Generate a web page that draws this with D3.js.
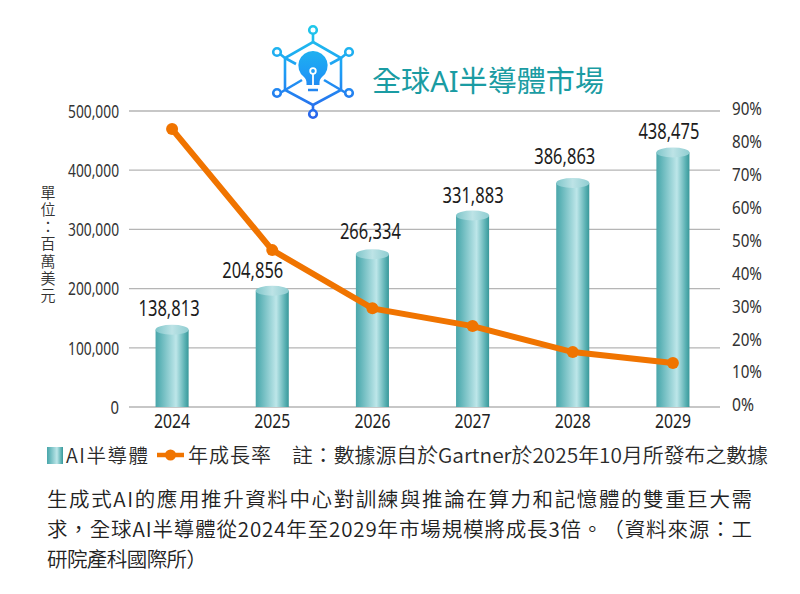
<!DOCTYPE html>
<html><head><meta charset="utf-8">
<script src="https://cdn.jsdelivr.net/npm/d3@7"></script>
<style>
html,body{margin:0;padding:0;background:#fff}
svg{display:block}
text{font-family:"Noto Sans","Noto Sans CJK TC",sans-serif;fill:#2a2a2a;text-spacing-trim:space-all}
.cjk{font-family:"Noto Sans CJK TC",sans-serif;font-weight:350}
</style></head><body>
<svg id="c" width="800" height="594"></svg>
<script>
const years=["2024","2025","2026","2027","2028","2029"];
const market=[138813,204856,266334,331883,386863,438475];
const growth=[84.5,47.7,30.0,24.6,16.7,13.4];
const leftTicks=[0,100000,200000,300000,400000,500000];
const rightTicks=[0,10,20,30,40,50,60,70,80,90];
const title="全球AI半導體市場";
const unitLabel="單位：百萬美元";
const seriesNames=["AI半導體","年成長率"];
const note="註：數據源自於Gartner於2025年10月所發布之數據";
const paragraph=["生成式AI的應用推升資料中心對訓練與推論在算力和記憶體的雙重巨大需","求，全球AI半導體從2024年至2029年市場規模將成長3倍。（資料來源：工","研院產科國際所）"];

const svg=d3.select("#c");
const defs=svg.append("defs");
const g1=defs.append("linearGradient").attr("id","bar");
[[0,"#4aa6aa"],[.12,"#5cb2b6"],[.62,"#bde6e9"],[.88,"#5cb2b4"],[1,"#38989a"]].forEach(d=>g1.append("stop").attr("offset",d[0]).attr("stop-color",d[1]));
const g2=defs.append("linearGradient").attr("id","cap");
[[0,"#7fc6ca"],[.5,"#bde3e6"],[1,"#8fcdd1"]].forEach(d=>g2.append("stop").attr("offset",d[0]).attr("stop-color",d[1]));
const g3=defs.append("linearGradient").attr("id","logo").attr("gradientUnits","userSpaceOnUse")
 .attr("x1",0).attr("y1",26).attr("x2",0).attr("y2",119);
[[0,"#1fc8ea"],[.5,"#1e9cf5"],[1,"#2a62ea"]].forEach(d=>g3.append("stop").attr("offset",d[0]).attr("stop-color",d[1]));

const x=d3.scaleBand().domain(years).range([122,723]).paddingInner(0.67).paddingOuter(0.335);
const y=d3.scaleLinear().domain([0,500000]).range([407,111]);
const yr=d3.scaleLinear().domain([0,90]).range([407,111]);
const fmt=d3.format(",");

// gridlines
svg.append("g").selectAll("line").data(leftTicks).join("line")
 .attr("x1",129).attr("x2",720).attr("y1",d=>y(d)).attr("y2",d=>y(d))
 .attr("stroke","#b5b5b5").attr("stroke-width",1.3);

// axes
const axL=svg.append("g").attr("transform","translate(119,0)").call(d3.axisLeft(y).tickValues(leftTicks).tickFormat(fmt).tickSize(0).tickPadding(0));
axL.select(".domain").remove();
axL.selectAll("text").attr("font-size",18.5).attr("dy","0.34em").style("fill","#333")
 .attr("textLength",d=>d?51:8.5).attr("lengthAdjust","spacingAndGlyphs");
const axR=svg.append("g").attr("transform","translate(732,-2.5)").call(d3.axisRight(yr).tickValues(rightTicks).tickFormat(d=>d+"%").tickSize(0).tickPadding(0));
axR.select(".domain").remove();
axR.selectAll("text").attr("font-size",18.5).attr("dy","0.34em").style("fill","#333")
 .attr("textLength",d=>d?30:22).attr("lengthAdjust","spacingAndGlyphs");
const axB=svg.append("g").attr("transform","translate(0,407)").call(d3.axisBottom(x).tickSize(0).tickPadding(6));
axB.select(".domain").remove();
axB.selectAll("text").attr("font-size",19.5).attr("dy","0.75em").style("fill","#222")
 .attr("textLength",36).attr("lengthAdjust","spacingAndGlyphs");

// bars
const bw=x.bandwidth(), capRy=5;
const bars=svg.append("g").selectAll("g").data(years).join("g");
bars.append("rect").attr("x",d=>x(d)).attr("width",bw)
 .attr("y",(d,i)=>y(market[i])+capRy).attr("height",(d,i)=>407-y(market[i])-capRy).attr("fill","url(#bar)");
bars.append("ellipse").attr("cx",d=>x(d)+bw/2).attr("cy",(d,i)=>y(market[i])+capRy).attr("rx",bw/2).attr("ry",capRy).attr("fill","url(#cap)");

// line
const line=d3.line().x((d,i)=>x(years[i])+bw/2).y(d=>yr(d));
svg.append("path").datum(growth).attr("d",line).attr("fill","none").attr("stroke","#f07400").attr("stroke-width",6);
svg.append("g").selectAll("circle").data(growth).join("circle")
 .attr("cx",(d,i)=>x(years[i])+bw/2).attr("cy",d=>yr(d)).attr("r",6).attr("fill","#f07400");

// value labels (hand-placed in the reference, so each has its own nudge)
const nudgeX=[-3,-19.5,-2,0.5,-8,-4], nudgeY=[-9,-8,-10,-8,-14,-8];
svg.append("g").selectAll("text").data(market).join("text")
 .attr("x",(d,i)=>x(years[i])+bw/2+nudgeX[i]).attr("y",(d,i)=>y(d)+nudgeY[i])
 .attr("text-anchor","middle").attr("font-size",21).style("fill","#1c1c1c")
 .attr("textLength",61).attr("lengthAdjust","spacingAndGlyphs").text(d=>fmt(d));

// unit label
svg.append("text").attr("class","cjk").attr("x",48).attr("y",185)
 .style("writing-mode","vertical-rl").style("text-orientation","upright")
 .attr("font-size",15).attr("letter-spacing",2.1).style("fill","#333").text(unitLabel);

// title
svg.append("text").attr("x",372).attr("y",92).attr("font-size",29).attr("textLength",232).attr("lengthAdjust","spacingAndGlyphs")
 .style("fill","#1a9ca3").text(title);

// logo
const lg=svg.append("g").attr("fill","#fff").attr("stroke","url(#logo)").attr("stroke-width",2.6);
const hex=[[313,42],[341,58],[341,90],[313,105],[285,90],[285,58]];
lg.append("path").attr("fill","none").attr("d",d3.line()(hex)+"Z");
[[[313,33],[313,42]],[[341,58],[346,54]],[[341,90],[346,93]],[[313,105],[313,110]],[[285,90],[280,93]],[[285,58],[280,54]],
 [[285,58],[296,64]],[[341,58],[330,64]],[[285,90],[302,80]],[[341,90],[324,80]]].forEach(s=>lg.append("path").attr("fill","none").attr("d",d3.line()(s)));
[[313,30],[349,52],[349,93],[313,114],[277,93],[277,52]].forEach(c=>lg.append("circle").attr("cx",c[0]).attr("cy",c[1]).attr("r",3.8));
svg.append("path").attr("d","M313 51a14.5 14.5 0 0 1 9 26c-1.500 1.500-2.500 3-2.500 6v2h-13v-2c0-3-1-4.500-2.500-6a14.500 14.500 0 0 1 9-26z").attr("fill","url(#logo)");
svg.append("circle").attr("cx",313).attr("cy",71).attr("r",2.800).attr("fill","none").attr("stroke","#fff").attr("stroke-width",1.800);
svg.append("path").attr("d","M313 74v11").attr("stroke","#fff").attr("stroke-width",1.800);
svg.append("path").attr("d","M308 90h10").attr("stroke","url(#logo)").attr("stroke-width",2.500);

// legend
svg.append("rect").attr("x",47).attr("y",447).attr("width",16).attr("height",17).attr("fill","url(#bar)");
svg.append("text").attr("class","cjk").attr("x",66).attr("y",463).attr("font-size",19.5).attr("textLength",82).text(seriesNames[0]);
svg.append("path").attr("d","M157 455H184").attr("stroke","#f07400").attr("stroke-width",4.500);
svg.append("circle").attr("cx",170.500).attr("cy",455).attr("r",5.500).attr("fill","#f07400");
svg.append("text").attr("class","cjk").attr("x",188).attr("y",463).attr("font-size",20).attr("textLength",83).text(seriesNames[1]);
svg.append("text").attr("class","cjk").attr("x",292).attr("y",463).attr("font-size",20).attr("textLength",476).attr("lengthAdjust","spacingAndGlyphs").text(note);

// paragraph
const widths=[705,705,160];
svg.append("g").selectAll("text").data(paragraph).join("text").attr("class","cjk")
 .attr("x",47).attr("y",(d,i)=>507+i*30).attr("font-size",20.5)
 .attr("textLength",(d,i)=>widths[i]).style("fill","#222").text(d=>d);
</script>
</body></html>
